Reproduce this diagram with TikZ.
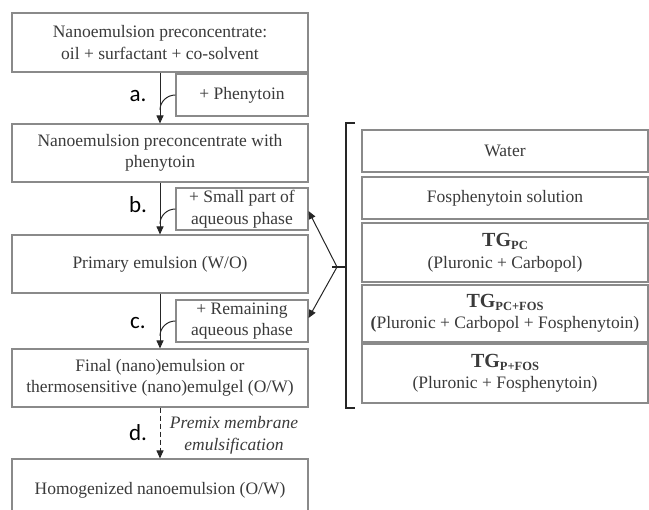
\documentclass[tikz,border=0pt]{standalone}
\usepackage{fontspec}
\setmainfont{Liberation Serif}
\newfontfamily\lblfont{Carlito}
\usetikzlibrary{arrows.meta,calc}
\definecolor{bordergray}{HTML}{8A8A8A}
\definecolor{txtgray}{HTML}{3A3A3A}
\definecolor{arrowdark}{HTML}{262626}
\newcommand\tgtitle[1]{{\fontsize{20}{22}\selectfont\bfseries TG}\raisebox{-3pt}{\fontsize{12.5}{13}\selectfont\bfseries #1}}
\begin{document}
\begin{tikzpicture}[x=1pt,y=-1pt,
  box/.style={draw=bordergray,line width=1.1pt,text=txtgray,align=center,
    font=\fontsize{17.5}{21.5}\selectfont,inner sep=0pt},
  mainbox/.style={box,minimum width=296pt},
  sidebox/.style={box,minimum width=132pt,minimum height=42pt},
  rbox/.style={box,minimum width=286pt},
  lbl/.style={text=black,font=\lblfont\fontsize{23}{23}\selectfont,inner sep=0pt},
  arr/.style={draw=arrowdark,line width=1pt,-{Triangle[length=8pt,width=7pt]}},
  joinline/.style={draw=arrowdark,line width=1pt},
  brk/.style={draw=arrowdark,line width=1.1pt}]
\useasboundingbox (0,0) rectangle (649,510);
\clip (0,0) rectangle (649,510);

% left column
\node[mainbox,minimum height=59pt] (n1) at (160,42.5) {Nanoemulsion preconcentrate:\\oil + surfactant + co-solvent};
\node[mainbox,minimum height=58pt] (n2) at (160,153) {Nanoemulsion preconcentrate with\\phenytoin};
\node[mainbox,minimum height=58pt] (n3) at (160,264) {Primary emulsion (W/O)};
\node[mainbox,minimum height=58pt] (n4) at (160,378) {Final (nano)emulsion or\\thermosensitive (nano)emulgel (O/W)};
\node[mainbox,minimum height=62pt] (n5) at (160,490) {Homogenized nanoemulsion (O/W)};

% side boxes
\node[sidebox] (ph) at (242,95) {+ Phenytoin};
\node[sidebox] (sp) at (242,209) {+ Small part of\\aqueous phase};
\node[sidebox] (rp) at (242,321) {+ Remaining\\aqueous phase};

% step labels
\node[lbl] (la) at (138,96) {a.};
\node[lbl] (lb) at (138,205) {b.};
\node[lbl] (lc) at (138,323) {c.};
\node[lbl] (ld) at (138,433) {d.};
\node[text=txtgray,align=center,font=\itshape\fontsize{17.5}{21.5}\selectfont,inner sep=0pt] (pm) at (234,435.5) {Premix membrane\\emulsification};

% main arrows
\draw[arr] (n1.south) -- (n2.north);
\draw[arr] (n2.south) -- (n3.north);
\draw[arr] (n3.south) -- (n4.north);
\draw[arr,dash pattern=on 5pt off 3pt] (n4.south) -- (n5.north);

% joins
\coordinate (ja) at (160,110);
\coordinate (jb) at (160,224);
\coordinate (jc) at (160,336);
\draw[joinline] (ph.west) to[out=180,in=90] (ja);
\draw[joinline] (sp.west) to[out=180,in=90] (jb);
\draw[joinline] (rp.west) to[out=180,in=90] (jc);

% right column
\node[rbox,minimum height=42pt] (w) at (505,151) {Water};
\node[rbox,minimum height=42pt] (fs) at (505,198) {Fosphenytoin solution};
\node[rbox,minimum height=59pt] (t1) at (505,252.5) {\tgtitle{PC}\\(Pluronic + Carbopol)};
\node[rbox,minimum height=57pt] (t2) at (505,313.5) {\tgtitle{PC+FOS}\\\textbf{(}Pluronic + Carbopol + Fosphenytoin)};
\node[rbox,minimum height=59pt] (t3) at (505,373.5) {\tgtitle{P+FOS}\\(Pluronic + Fosphenytoin)};

% bracket
\draw[brk] (355,123) -- (346,123) -- (346,408) -- (355,408);
\draw[brk] (332,267) -- (346,267);
\coordinate (bm) at (337,267);
\draw[arr] (bm) -- ($(sp.east)+(0,2)$);
\draw[arr] (bm) -- ($(rp.east)+(0,-3)$);
\end{tikzpicture}
\end{document}
